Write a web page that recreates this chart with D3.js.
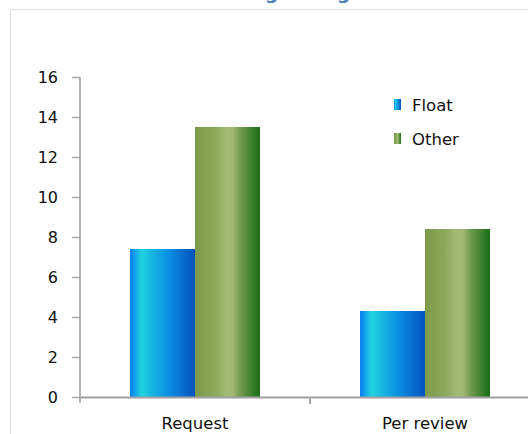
<!DOCTYPE html>
<html><head><meta charset="utf-8">
<script src="https://cdn.jsdelivr.net/npm/d3@7"></script>
<style>html,body{margin:0;padding:0;background:#fff;overflow:hidden}</style>
</head><body><svg id="c" width="528" height="434"></svg>
<script>
const categories = ["Request", "Per review"];
const seriesNames = ["Float", "Other"];
const floatValues = [7.4, 4.3];
const otherValues = [13.5, 8.4];
const yTicks = [0, 2, 4, 6, 8, 10, 12, 14, 16];
const titleText = "Debug Changes";

const svg = d3.select("#c");
const font = "DejaVu Sans, sans-serif";
const defs = svg.append("defs");
function grad(id, stops) {
  const g = defs.append("linearGradient").attr("id", id).attr("x1", "0%").attr("x2", "100%").attr("y1", "0%").attr("y2", "0%");
  stops.forEach(s => g.append("stop").attr("offset", s[0]).attr("stop-color", s[1]));
}
grad("gFloat", [["0%", "#0a7cf2"], ["18%", "#22d4e2"], ["30%", "#18bce0"], ["60%", "#0a8ee2"], ["100%", "#0552bc"]]);
grad("gOther", [["0%", "#7c9a48"], ["30%", "#8aa858"], ["48%", "#a2ba72"], ["58%", "#a0b870"], ["72%", "#6a9848"], ["100%", "#186c16"]]);
const fills = ["url(#gFloat)", "url(#gOther)"];

// frame
svg.append("rect").attr("x", 10.5).attr("y", 9.5).attr("width", 600).attr("height", 500)
  .attr("fill", "none").attr("stroke", "#dcdcdc").attr("stroke-width", 1);

// title (clipped off the top edge, as in the reference)
const t = svg.append("text").attr("y", -2).attr("font-family", font).attr("font-weight", "bold")
  .attr("font-size", 21).attr("fill", "#4a80b8").text(titleText);
let d0 = t.node().getStartPositionOfChar(10).x - t.node().getStartPositionOfChar(4).x;
const fs = 21 * 72 / d0;
t.attr("font-size", fs).attr("y", 3 - fs * 0.23);
const gx = t.node().getStartPositionOfChar(4).x;
t.attr("x", 265 - gx);

const x0 = d3.scaleBand().domain(categories).range([80, 540]).paddingInner(0).paddingOuter(0);
const x1 = d3.scaleBand().domain(seriesNames).range([0, x0.bandwidth()]).paddingInner(0).paddingOuter(0.77);
const y = d3.scaleLinear().domain([0, 16]).range([397, 77]);

// y axis
const ya = svg.append("g").attr("transform", "translate(80,0)")
  .call(d3.axisLeft(y).tickValues(yTicks).tickSize(8).tickPadding(14).tickFormat(d3.format("d")));
ya.select(".domain").remove();
ya.selectAll(".tick line").attr("stroke", "#a8a8a8").attr("stroke-width", 1.5);
ya.selectAll(".tick text").attr("font-family", font).attr("font-size", 16).attr("fill", "#111");
svg.append("line").attr("x1", 80).attr("x2", 80).attr("y1", 77).attr("y2", 403).attr("stroke", "#9a9a9a").attr("stroke-width", 1.5);

// bars
const data = categories.map((c, i) => ({ c, vals: [floatValues[i], otherValues[i]] }));
const groups = svg.selectAll("g.grp").data(data).join("g").attr("class", "grp")
  .attr("transform", d => `translate(${x0(d.c)},0)`);
groups.selectAll("rect").data(d => d.vals.map((v, j) => ({ v, j }))).join("rect")
  .attr("x", d => x1(seriesNames[d.j])).attr("width", x1.bandwidth())
  .attr("y", d => y(d.v)).attr("height", d => y(0) - y(d.v))
  .attr("fill", d => fills[d.j]);

// x axis
const xa = svg.append("g").attr("transform", "translate(0,397)")
  .call(d3.axisBottom(x0).tickSize(0).tickPadding(20));
xa.select(".domain").attr("stroke", "#a0a0a0").attr("stroke-width", 2);
xa.selectAll(".tick text").attr("font-family", font).attr("font-size", 16.5).attr("fill", "#111");
svg.append("line").attr("x1", x0(categories[1])).attr("x2", x0(categories[1])).attr("y1", 397).attr("y2", 404)
  .attr("stroke", "#a8a8a8").attr("stroke-width", 2);

// legend
const lg = svg.append("g").attr("transform", "translate(394,99)");
seriesNames.forEach((s, i) => {
  lg.append("rect").attr("x", 0).attr("y", i * 34).attr("width", 7).attr("height", 11).attr("fill", fills[i]);
  lg.append("text").attr("x", 18).attr("y", i * 34 + 12).attr("font-family", font).attr("font-size", 16.5)
    .attr("fill", "#111").text(s);
});
</script></body></html>
